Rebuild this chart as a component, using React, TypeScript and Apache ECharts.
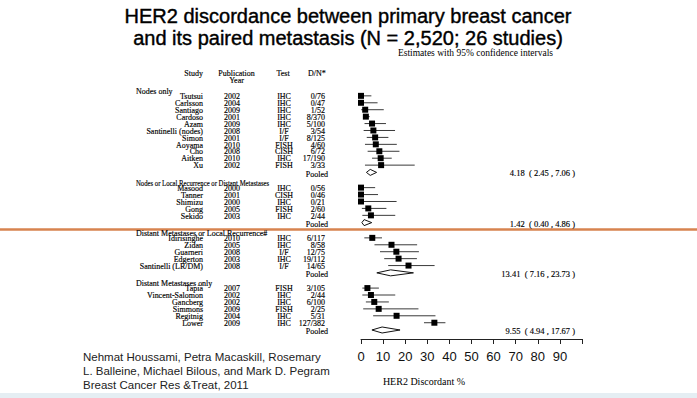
import React, { useEffect, useRef } from "react";
import * as echarts from "echarts";

const groupNames = [
  "Nodes only",
  "Nodes or Local Recurrence or Distant Metastases",
  "Distant Metastases or Local Recurrence#",
  "Distant Metastases only",
];

const studies1 = ["Tsutsui", "Carlsson", "Santiago", "Cardoso", "Azam", "Santinelli (nodes)", "Simon", "Aoyama", "Cho", "Aitken", "Xu"];
const years1 = ["2002", "2004", "2009", "2001", "2009", "2008", "2001", "2010", "2008", "2010", "2002"];
const tests1 = ["IHC", "IHC", "IHC", "IHC", "IHC", "I/F", "I/F", "FISH", "CISH", "IHC", "FISH"];
const dn1 = ["0/76", "0/47", "1/52", "8/370", "5/100", "3/54", "8/125", "4/60", "6/72", "17/190", "3/33"];
const est1 = [0, 0, 1.9, 2.2, 5.0, 5.6, 6.4, 6.7, 8.3, 8.9, 9.1];
const lo1 = [0, 0, 0.1, 0.9, 1.6, 1.2, 2.6, 1.8, 3.0, 5.0, 1.8];
const hi1 = [4.7, 7.5, 10.3, 3.9, 11.3, 15.4, 12.4, 16.2, 17.4, 13.9, 24.3];

const studies2 = ["Masood", "Tanner", "Shimizu", "Gong", "Sekido"];
const years2 = ["2000", "2001", "2000", "2005", "2003"];
const tests2 = ["IHC", "CISH", "IHC", "FISH", "IHC"];
const dn2 = ["0/56", "0/46", "0/21", "2/60", "2/44"];
const est2 = [0, 0, 0, 3.3, 4.5];
const lo2 = [0, 0, 0, 0.4, 0.6];
const hi2 = [6.4, 7.7, 16.1, 11.5, 15.5];

const studies3 = ["Idirisinghe", "Zidan", "Guarneri", "Edgerton", "Santinelli (LR/DM)"];
const years3 = ["2010", "2005", "2008", "2003", "2008"];
const tests3 = ["IHC", "IHC", "I/F", "IHC", "I/F"];
const dn3 = ["6/117", "8/58", "12/75", "19/112", "14/65"];
const est3 = [5.1, 13.8, 16.0, 17.0, 21.5];
const lo3 = [1.5, 6.1, 8.6, 10.5, 12.3];
const hi3 = [9.5, 25.4, 26.2, 25.3, 33.3];

const studies4 = ["Tapia", "Vincent-Salomon", "Gancberg", "Simmons", "Regitnig", "Lower"];
const years4 = ["2007", "2002", "2002", "2009", "2004", "2009"];
const tests4 = ["FISH", "IHC", "IHC", "FISH", "IHC", "IHC"];
const dn4 = ["3/105", "2/44", "6/100", "2/25", "5/31", "127/382"];
const est4 = [2.9, 4.5, 6.0, 8.0, 16.1, 33.2];
const lo4 = [0.6, 0.6, 2.2, 1.0, 5.5, 28.5];
const hi4 = [8.1, 15.5, 12.6, 26.0, 33.7, 38.2];

const pooledEst = [4.18, 1.42, 13.41, 9.55];
const pooledLo = [2.45, 0.4, 7.16, 4.94];
const pooledHi = [7.06, 4.86, 23.73, 17.67];

const xTicks = [0, 10, 20, 30, 40, 50, 60, 70, 80, 90];

const SERIF = "'Liberation Serif', 'DejaVu Serif', serif";
const SANS = "'Liberation Sans', Arial, sans-serif";

type Row = { kind: "header" | "study" | "pooled"; y: number; g: number; i: number };

function buildRows(): Row[] {
  const counts = [studies1.length, studies2.length, studies3.length, studies4.length];
  const rows: Row[] = [];
  let start = 0;
  counts.forEach((n, g) => {
    rows.push({ kind: "header", y: start - 0.72, g, i: 0 });
    for (let i = 0; i < n; i++) rows.push({ kind: "study", y: start + i, g, i });
    const py = start + n + 0.05;
    rows.push({ kind: "pooled", y: py, g, i: 0 });
    start = py + 2.2;
  });
  return rows;
}

const G = [
  { s: studies1, yr: years1, t: tests1, dn: dn1, e: est1, lo: lo1, hi: hi1 },
  { s: studies2, yr: years2, t: tests2, dn: dn2, e: est2, lo: lo2, hi: hi2 },
  { s: studies3, yr: years3, t: tests3, dn: dn3, e: est3, lo: lo3, hi: hi3 },
  { s: studies4, yr: years4, t: tests4, dn: dn4, e: est4, lo: lo4, hi: hi4 },
];

function txt(text: string, x: number, y: number, font: string, align: string, fill = "#000", extra: any = {}) {
  return {
    type: "text",
    x,
    y,
    ...(extra.el || {}),
    style: {
      text,
      font,
      fill,
      align,
      textAlign: align,
      verticalAlign: "middle",
      textVerticalAlign: "middle",
      ...(extra.style || {}),
    },
  };
}

const TABLE_FONT = `8px ${SERIF}`;
const tbl = (text: string, x: number, y: number, align: string, el: any = {}) =>
  txt(text, x, y, TABLE_FONT, align, "#000", {
    style: { lineHeight: 6.5, stroke: "#000", lineWidth: 0.15 },
    el: { scaleY: 1.15, originX: 0, originY: 0, ...el },
  });

export default function App() {
  const ref = useRef<HTMLDivElement>(null);
  useEffect(() => {
    const chart = echarts.init(ref.current!, null, { renderer: "svg" });
    const rows = buildRows();
    const studyRows = rows.filter((r) => r.kind === "study");
    const pooledRows = rows.filter((r) => r.kind === "pooled");

    const option: any = {
      animation: false,
      backgroundColor: "#ffffff",
      grid: { left: 361, top: 82, width: 221, height: 257 },
      xAxis: {
        type: "value",
        min: 0,
        max: 100,
        interval: 10,
        splitLine: { show: false },
        axisLine: { show: true, onZero: false, lineStyle: { color: "#222", width: 1 } },
        axisTick: { show: true, length: 5, lineStyle: { color: "#222" } },
        axisLabel: {
          margin: 11,
          color: "#111",
          fontSize: 13,
          fontFamily: SANS,
          formatter: (v: number) => (xTicks.indexOf(v) >= 0 ? String(v) : ""),
        },
      },
      yAxis: { type: "value", inverse: true, min: -2, max: 35.1, show: false },
      series: [
        {
          type: "custom",
          name: "studies",
          encode: { x: [0, 1, 2], y: 3 },
          data: studyRows.map((r) => [G[r.g].e[r.i], G[r.g].lo[r.i], G[r.g].hi[r.i], r.y]),
          renderItem: (_p: any, api: any) => {
            const e = api.value(0), lo = api.value(1), hi = api.value(2), row = api.value(3);
            const [xe, y] = api.coord([e, row]);
            const xl = api.coord([lo, row])[0];
            const xh = api.coord([hi, row])[0];
            return {
              type: "group",
              children: [
                { type: "line", shape: { x1: xl, y1: y, x2: xh, y2: y }, style: { stroke: "#3a3a3a", lineWidth: 1 } },
                { type: "rect", shape: { x: xe - 3, y: y - 3, width: 6, height: 6 }, style: { fill: "#000" } },
              ],
            };
          },
        },
        {
          type: "custom",
          name: "pooled",
          encode: { x: [0, 1, 2], y: 3 },
          data: pooledRows.map((r) => [pooledEst[r.g], pooledLo[r.g], pooledHi[r.g], r.y]),
          renderItem: (_p: any, api: any) => {
            const e = api.value(0), lo = api.value(1), hi = api.value(2), row = api.value(3);
            const [xe, y] = api.coord([e, row]);
            const xl = api.coord([lo, row])[0];
            const xh = api.coord([hi, row])[0];
            const label = `${e.toFixed(2)}  ( ${lo.toFixed(2)} , ${hi.toFixed(2)} )`;
            return {
              type: "group",
              children: [
                {
                  type: "polygon",
                  shape: { points: [[xl, y], [xe, y - 3], [xh, y], [xe, y + 3]] },
                  style: { fill: "#fff", stroke: "#111", lineWidth: 1 },
                },
                txt(label, 575, y + 1, `8.5px ${SERIF}`, "right", "#000", {
                  style: { lineHeight: 7, stroke: "#000", lineWidth: 0.15 },
                }),
              ],
            };
          },
        },
        {
          type: "custom",
          name: "table",
          encode: { x: 0, y: 1 },
          data: rows.map((r) => [0, r.y]),
          renderItem: (p: any, api: any) => {
            const r = rows[p.dataIndex];
            const y = api.coord([0, api.value(1)])[1];
            const g = G[r.g];
            if (r.kind === "header") {
              const squeeze = r.g === 1 ? 0.84 : 1;
              return tbl(groupNames[r.g], 136, y, "left", { scaleX: squeeze });
            }
            if (r.kind === "pooled") {
              return tbl("Pooled", 328, y + 1, "right");
            }
            return {
              type: "group",
              children: [
                tbl(g.s[r.i], 203, y, "right"),
                tbl(g.yr[r.i], 232, y, "center"),
                tbl(g.t[r.i], 284, y, "center"),
                tbl(g.dn[r.i], 325, y, "right"),
              ],
            };
          },
        },
      ],
      graphic: [
        txt("HER2 discordance between primary breast cancer", 348, 16, `20px ${SANS}`, "center", "#000", {
          style: { stroke: "#000", lineWidth: 0.4 },
        }),
        txt("and its paired metastasis (N = 2,520; 26 studies)", 348, 38, `20px ${SANS}`, "center", "#000", {
          style: { stroke: "#000", lineWidth: 0.4 },
        }),
        txt("Estimates with 95% confidence intervals", 553, 53, `9.5px ${SERIF}`, "right"),
        tbl("Study", 203, 73, "right"),
        tbl("Publication", 236.5, 72.5, "center"),
        tbl("Year", 236.5, 79.5, "center"),
        tbl("Test", 283, 73, "center"),
        tbl("D/N*", 308, 73, "left"),
        {
          type: "line",
          shape: { x1: 0, y1: 229.5, x2: 697, y2: 229.5 },
          style: { stroke: "#d7834f", lineWidth: 2.5 },
        },
        txt("HER2 Discordant %", 424, 381, `10px ${SERIF}`, "center"),
        txt("Nehmat Houssami, Petra Macaskill, Rosemary", 83, 357, `11.5px ${SANS}`, "left", "#222"),
        txt("L. Balleine, Michael Bilous, and Mark D. Pegram", 83, 371, `11.5px ${SANS}`, "left", "#222"),
        txt("Breast Cancer Res &Treat, 2011", 83, 385, `11.5px ${SANS}`, "left", "#222"),
        { type: "rect", shape: { x: 0, y: 393, width: 697, height: 5 }, style: { fill: "#e5eef3" } },
      ],
    };
    chart.setOption(option);
    return () => chart.dispose();
  }, []);
  return (
    <div
      ref={ref}
      style={{ position: "fixed", left: 0, top: 0, width: 697, height: 398, background: "#fff" }}
    />
  );
}
